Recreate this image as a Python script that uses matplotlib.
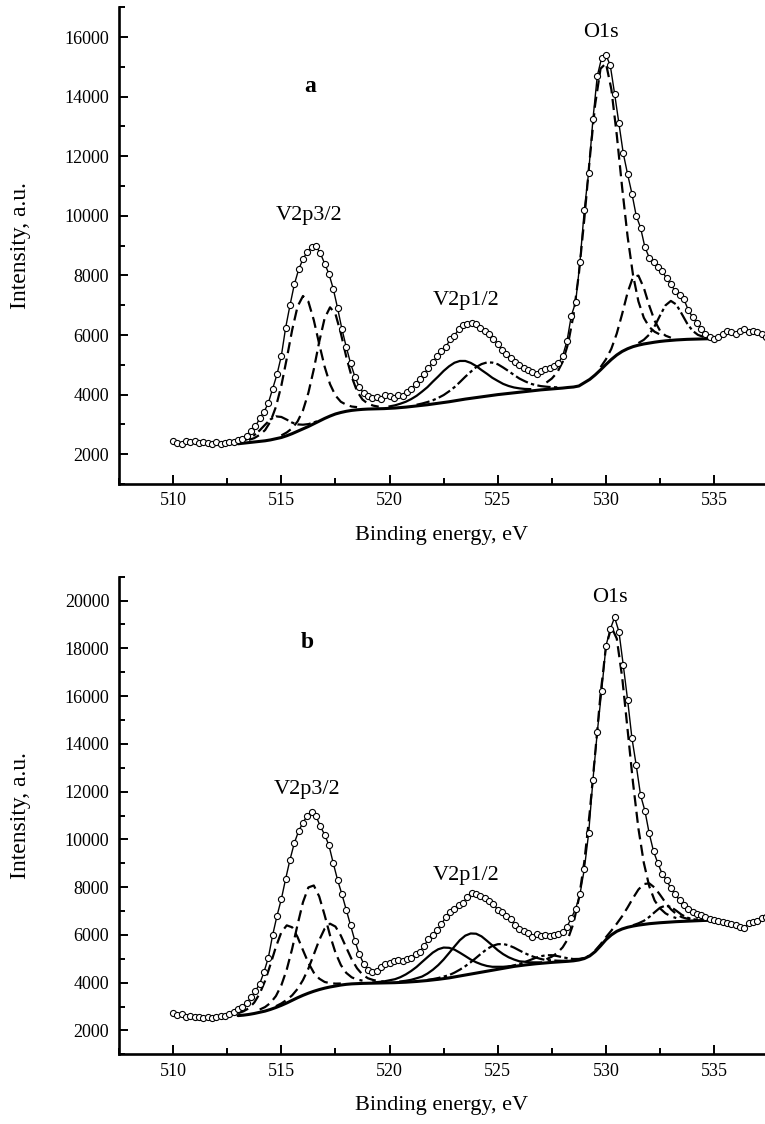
import matplotlib
matplotlib.use("Agg")
import matplotlib.pyplot as plt  # noqa: E402
import numpy as np  # noqa: E402
from matplotlib.ticker import MultipleLocator  # noqa: E402

plt.rcParams["font.family"] = ["Liberation Serif", "DejaVu Serif"]

DATA_START = 510.0   # eV, first measured point
DATA_STEP = 0.2      # eV between measured points
FIT_STEP = 0.25      # eV grid of background / fitted components

# ---- sample (a) -----------------------------------------------------------
a_counts = [
    2450, 2380, 2350, 2430, 2400, 2450, 2380, 2420, 2360, 2350,
    2400, 2330, 2380, 2420, 2400, 2460, 2520, 2620, 2780, 2930,
    3200, 3420, 3720, 4200, 4680, 5300, 6250, 7000, 7700, 8200,
    8550, 8800, 8950, 8980, 8750, 8400, 8050, 7550, 6900, 6200,
    5600, 5050, 4600, 4250, 4050, 3950, 3880, 3920, 3850, 3980,
    3960, 3900, 4000, 3950, 4100, 4200, 4350, 4520, 4700, 4900,
    5080, 5300, 5450, 5600, 5850, 5980, 6200, 6330, 6360, 6400,
    6380, 6250, 6150, 6050, 5880, 5700, 5500, 5350, 5230, 5100,
    4980, 4900, 4820, 4750, 4680, 4800, 4860, 4900, 4950, 5050,
    5300, 5800, 6650, 7100, 8450, 10200, 11450, 13250, 14700, 15300,
    15400, 15050, 14100, 13100, 12100, 11400, 10750, 10000, 9600, 8950,
    8600, 8450, 8300, 8150, 7900, 7700, 7480, 7350, 7200, 6850,
    6600, 6420, 6200, 6050, 5950, 5880, 5950, 6050, 6150, 6100,
    6050, 6150, 6200, 6100, 6150, 6100, 6050, 5950,
]

a_bg_start = 513.0
a_bg = [
    2350, 2370, 2390, 2410, 2430, 2450, 2480, 2520,
    2560, 2620, 2690, 2770, 2850, 2930, 3020, 3110,
    3200, 3280, 3350, 3400, 3440, 3470, 3490, 3505,
    3515, 3520, 3525, 3530, 3540, 3550, 3565, 3580,
    3600, 3620, 3640, 3660, 3685, 3710, 3735, 3760,
    3790, 3820, 3850, 3875, 3900, 3925, 3950, 3975,
    4000, 4020, 4040, 4060, 4080, 4100, 4120, 4140,
    4160, 4175, 4190, 4205, 4220, 4240, 4255, 4290,
    4400, 4510, 4660, 4830, 5010, 5180, 5330, 5450,
    5540, 5610, 5660, 5700, 5730, 5760, 5785, 5805,
    5820, 5835, 5845, 5855, 5860, 5865, 5870, 5875,
    5880, 5885,
]

# component heights above background: (start energy, heights)
a_v32_low = (513.0, [45, 80, 140, 230, 370, 540, 690, 750, 690, 540, 370,
                     230, 140, 80, 45, 25])
a_v32_1 = (513.5, [90, 130, 220, 360, 620, 1070, 1740, 2590, 3480, 4190, 4460,
                   4190, 3480, 2590, 1740, 1070, 620, 360, 220, 130, 90])
a_v32_2 = (515.0, [70, 110, 180, 330, 620, 1130, 1830, 2660, 3360, 3650,
                   3360, 2660, 1830, 1130, 620, 330, 180, 110, 70])
a_v12_1 = (520.0, [65, 90, 130, 180, 250, 340, 460, 590, 750, 900, 1060, 1190,
                   1280, 1310, 1280, 1190, 1060, 900, 750, 590, 460, 340, 250,
                   180, 130, 90, 65])
a_v12_2 = (521.25, [40, 60, 90, 125, 180, 250, 350, 460, 600, 750, 890, 1020,
                    1100, 1130, 1100, 1020, 890, 750, 600, 460, 350, 250, 180,
                    125, 90, 60, 40])
a_o1s_1 = (527.25, [230, 350, 540, 880, 1470, 2410, 3770, 5490, 7390, 9070,
                    10110, 10110, 9070, 7390, 5490, 3770, 2410, 1470, 880, 540,
                    350, 230])
a_o1s_2 = (529.75, [90, 175, 360, 720, 1260, 1885, 2335, 2335, 1885, 1260, 720,
                    360, 175, 90])
a_o1s_3 = (531.5, [70, 140, 285, 535, 870, 1190, 1325, 1190, 870, 535, 285,
                   140, 70])

# ---- sample (b) -----------------------------------------------------------
b_counts = [
    2720, 2650, 2700, 2560, 2600, 2550, 2580, 2540, 2580, 2540,
    2560, 2600, 2620, 2680, 2760, 2880, 2980, 3150, 3380, 3650,
    3950, 4450, 5050, 6000, 6800, 7500, 8350, 9150, 9850, 10350,
    10700, 11000, 11150, 10980, 10550, 10200, 9750, 9000, 8300, 7700,
    7050, 6400, 5750, 5200, 4800, 4550, 4430, 4480, 4650, 4780,
    4840, 4900, 4950, 4920, 5000, 5050, 5180, 5300, 5550, 5820,
    6000, 6200, 6450, 6750, 6950, 7100, 7250, 7350, 7600, 7750,
    7700, 7620, 7550, 7430, 7300, 7050, 6950, 6800, 6650, 6420,
    6250, 6150, 6100, 5920, 6050, 5950, 5980, 5960, 6000, 6050,
    6120, 6350, 6700, 7100, 7700, 8750, 10250, 12500, 14500, 16200,
    18100, 18800, 19300, 18700, 17300, 15850, 14250, 13100, 11850, 11200,
    10250, 9500, 9000, 8550, 8300, 7950, 7700, 7450, 7250, 7100,
    6950, 6880, 6820, 6750, 6680, 6620, 6580, 6520, 6480, 6450,
    6400, 6350, 6300, 6500, 6550, 6600, 6700, 6750,
]

b_bg_start = 513.0
b_bg = [
    2620, 2640, 2670, 2710, 2760, 2810, 2880, 2960,
    3050, 3150, 3260, 3370, 3470, 3560, 3640, 3710,
    3770, 3820, 3860, 3900, 3930, 3950, 3960, 3970,
    3975, 3980, 3985, 3990, 3995, 4000, 4010, 4020,
    4035, 4050, 4070, 4090, 4115, 4140, 4170, 4200,
    4240, 4280, 4320, 4360, 4400, 4440, 4480, 4520,
    4560, 4600, 4640, 4680, 4710, 4740, 4765, 4790,
    4810, 4830, 4850, 4865, 4880, 4895, 4915, 4950,
    5010, 5120, 5300, 5540, 5800, 6000, 6150, 6250,
    6320, 6370, 6410, 6440, 6470, 6490, 6510, 6525,
    6540, 6555, 6565, 6575, 6585, 6595, 6605, 6610,
]

b_v32_1 = (513.0, [100, 160, 260, 460, 780, 1270, 1890, 2540, 3060, 3250, 3060,
                   2540, 1890, 1270, 780, 460, 260, 160, 100, 65])
b_v32_2 = (514.0, [115, 170, 275, 480, 840, 1400, 2160, 3060, 3900, 4430, 4430,
                   3900, 3060, 2160, 1400, 840, 480, 275, 170, 115])
b_v32_3 = (514.75, [55, 80, 130, 210, 370, 640, 1030, 1540, 2070, 2490, 2650,
                    2490, 2070, 1540, 1030, 640, 370, 210, 130, 80, 55])
b_v12_1 = (519.25, [30, 45, 65, 105, 145, 220, 325, 455, 610, 795, 975, 1145,
                    1260, 1300, 1260, 1145, 975, 795, 610, 455, 325, 220, 145,
                    105, 65, 45, 30])
b_v12_2 = (520.5, [40, 60, 85, 135, 185, 290, 425, 595, 800, 1040, 1275, 1500,
                   1650, 1700, 1650, 1500, 1275, 1040, 800, 595, 425, 290, 185,
                   135, 85, 60, 40])
b_v12_3 = (521.75, [25, 35, 55, 85, 115, 180, 265, 370, 495, 640, 790, 925,
                    1020, 1050, 1020, 925, 790, 640, 495, 370, 265, 180, 115,
                    85, 55, 35, 25])
b_v12_4 = (525.25, [15, 25, 45, 75, 125, 185, 250, 300, 320, 300, 250, 185, 125,
                    75, 45, 25, 15])
b_o1s_1 = (527.25, [150, 240, 380, 600, 950, 1570, 2580, 4050, 6010, 8280,
                    10540, 12260, 12900, 12260, 10540, 8280, 6010, 4050, 2580,
                    1570, 950, 600, 380, 240, 150])
b_o1s_2 = (529.5, [45, 65, 105, 180, 320, 535, 830, 1170, 1490, 1690, 1690,
                   1490, 1170, 830, 535, 320, 180, 105, 65, 45])
b_o1s_3 = (531.25, [35, 75, 150, 280, 460, 630, 700, 630, 460, 280, 150, 75,
                    35])

DASHED = (0, (5, 2.5))
DASHDOT = (0, (6, 1.5, 1.5, 1.5))


def _component_curve(bg_start, bg, comp):
    start, heights = comp
    i0 = int(round((start - bg_start) / FIT_STEP))
    heights = np.asarray(heights, dtype=float)
    base = np.asarray(bg[i0:i0 + len(heights)], dtype=float)
    x = start + FIT_STEP * np.arange(len(heights))
    return x, base + heights


def _style_axes(ax, ymax):
    ax.set_xlim(507.5, 537.35)
    ax.set_ylim(1000, ymax)
    for side in ("top", "right"):
        ax.spines[side].set_visible(False)
    for side in ("left", "bottom"):
        ax.spines[side].set_linewidth(1.9)
    ax.xaxis.set_major_locator(MultipleLocator(5))
    ax.xaxis.set_minor_locator(MultipleLocator(2.5))
    ax.yaxis.set_major_locator(MultipleLocator(2000))
    ax.yaxis.set_minor_locator(MultipleLocator(1000))
    ax.tick_params(which="both", direction="in", labelsize=13, width=1.4)
    ax.tick_params(which="major", length=6.5)
    ax.tick_params(which="minor", length=4)
    ax.tick_params(axis="y", pad=7)
    ax.tick_params(axis="x", pad=6)
    ax.set_xlabel("Binding energy, eV", fontsize=16)
    ax.set_ylabel("Intensity, a.u.", fontsize=17)
    ax.yaxis.set_label_coords(-0.136, 0.5)
    ax.xaxis.set_label_coords(0.5, -0.088)


def _draw_panel(ax, counts, bg_start, bg, components):
    e = DATA_START + DATA_STEP * np.arange(len(counts))
    xb = bg_start + FIT_STEP * np.arange(len(bg))
    ax.plot(xb, bg, color="black", lw=2.2, solid_capstyle="round", zorder=2)
    for comp, ls in components:
        x, y = _component_curve(bg_start, bg, comp)
        ax.plot(x, y, color="black", lw=1.6, linestyle=ls, zorder=3)
    ax.plot(e, counts, "-", color="black", lw=1.0, zorder=4)
    ax.plot(e, counts, "o", ms=4.4, mfc="white", mec="black", mew=0.8, zorder=5)


fig = plt.figure(figsize=(7.65, 11.24), dpi=100)
ax_a = fig.add_axes([0.1556, 0.5694, 0.8444, 0.4241])
ax_b = fig.add_axes([0.1556, 0.0620, 0.8444, 0.4249])

_draw_panel(ax_a, a_counts, a_bg_start, a_bg, [
    (a_v32_low, DASHDOT), (a_v32_1, DASHED), (a_v32_2, DASHED),
    (a_v12_1, "-"), (a_v12_2, DASHDOT),
    (a_o1s_1, DASHED), (a_o1s_2, DASHED), (a_o1s_3, DASHDOT),
])
_draw_panel(ax_b, b_counts, b_bg_start, b_bg, [
    (b_v32_1, DASHED), (b_v32_2, DASHED), (b_v32_3, DASHED),
    (b_v12_1, "-"), (b_v12_2, "-"), (b_v12_3, DASHDOT), (b_v12_4, DASHDOT),
    (b_o1s_1, DASHED), (b_o1s_2, DASHED), (b_o1s_3, DASHDOT),
])

_style_axes(ax_a, 17000)
_style_axes(ax_b, 21000)

peak_kw = dict(fontsize=16, ha="center", va="center")
ax_a.text(516.3, 10000, "V2p3/2", **peak_kw)
ax_a.text(523.55, 7150, "V2p1/2", **peak_kw)
ax_a.text(529.75, 16150, "O1s", **peak_kw)
ax_a.text(516.35, 14330, "a", fontsize=17, fontweight="bold", ha="center", va="center")

ax_b.text(516.2, 12100, "V2p3/2", **peak_kw)
ax_b.text(523.55, 8480, "V2p1/2", **peak_kw)
ax_b.text(530.2, 20140, "O1s", **peak_kw)
ax_b.text(516.2, 18250, "b", fontsize=17, fontweight="bold", ha="center", va="center")

fig.savefig("out.png", dpi=100)
